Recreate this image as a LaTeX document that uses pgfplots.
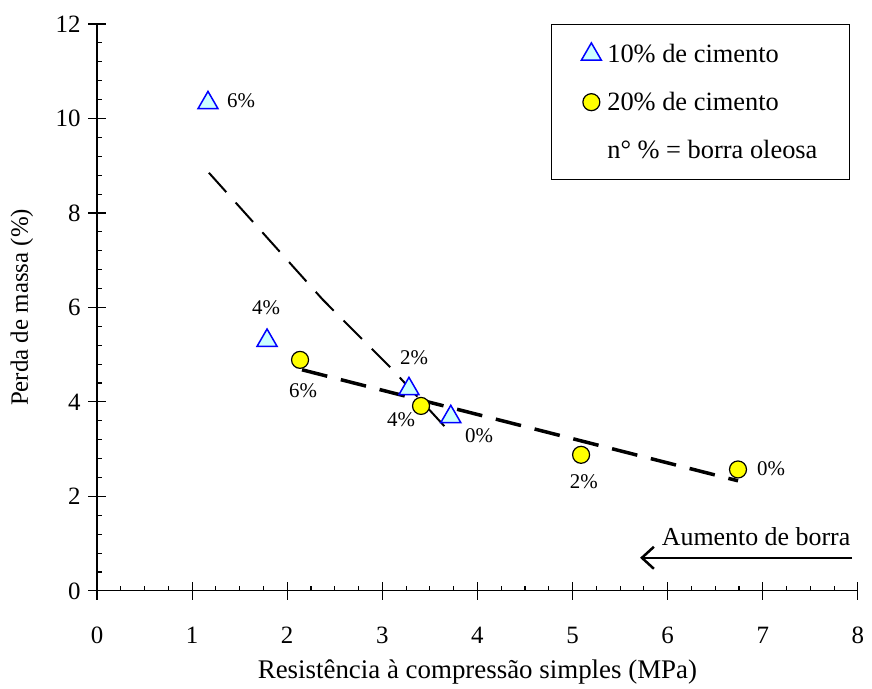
\documentclass[border=0pt]{standalone}
\usepackage{fontspec}
\setmainfont{Liberation Serif}
\usepackage{pgfplots}
\pgfplotsset{compat=1.18}
\usetikzlibrary{arrows.meta}
\definecolor{triedge}{RGB}{0,0,255}
\definecolor{trifill}{RGB}{204,255,255}
\definecolor{circfill}{RGB}{255,255,0}
\begin{document}
\begin{tikzpicture}
\begin{axis}[
  scale only axis, width=761bp, height=567bp,
  xmin=0, xmax=8, ymin=0, ymax=12,
  clip=false,
  axis x line*=bottom, axis y line*=left,
  axis line style={line width=1.1bp},
  xtick={0,...,8}, ytick={0,2,...,12},
  minor x tick num=3, minor y tick num=4,
  tick align=inside, major tick length=9bp, minor tick length=5bp,
  tick style={line width=1.1bp, black},
  extra x ticks={0,...,8}, extra x tick labels={},
  extra y ticks={0,2,...,12}, extra y tick labels={},
  extra x tick style={tick align=outside, major tick length=9bp},
  extra y tick style={tick align=outside, major tick length=9bp},
  /pgf/number format/assume math mode=true,
  tick label style={font=\fontsize{25}{25}\selectfont},
  xticklabel style={yshift=-33bp},
  yticklabel style={xshift=-13bp},
  xlabel={Resistência à compressão simples (MPa)},
  ylabel={Perda de massa (\%)},
  xlabel style={font=\fontsize{27}{27}\selectfont, at={(axis description cs:0.5,-0.143)}, anchor=center},
  ylabel style={font=\fontsize{25}{25}\selectfont, at={(axis description cs:-0.0986,0.5)}, anchor=center},
  legend cell align=left,
  legend style={at={(rel axis cs:0.5966,1)}, anchor=north west, draw=black, line width=1bp,
    font=\fontsize{26.5}{26.5}\selectfont, inner xsep=30bp, inner ysep=18bp, row sep=24bp, column sep=4bp},
]
\addplot[only marks, mark=triangle*, mark size=11.5bp,
  mark options={draw=triedge, fill=trifill, line width=1.5bp}]
  coordinates {(1.167,10.33) (1.788,5.30) (3.28,4.277) (3.72,3.685)};
\addlegendentry{10\% de cimento}
\addplot[only marks, mark=*, mark size=8.5bp,
  mark options={draw=black, fill=circfill, line width=1.2bp}]
  coordinates {(2.135,4.89) (3.407,3.915) (5.09,2.88) (6.74,2.57)};
\addlegendentry{20\% de cimento}
\addlegendimage{empty legend}
\addlegendentry{n° \% = borra oleosa}
\addplot[forget plot, black, line width=2bp, dash pattern=on 26bp off 14bp]
  coordinates {(1.177,8.85) (2.376,6.16) (3.10,4.70) (3.66,3.47)};
\addplot[forget plot, black, line width=3.5bp, dash pattern=on 26bp off 14bp]
  coordinates {(2.156,4.68) (6.74,2.33)};
\begin{scope}[font=\fontsize{21}{21}\selectfont]
\node at (axis cs:1.514,10.37) {6\%};
\node at (axis cs:1.777,5.99) {4\%};
\node at (axis cs:3.333,4.93) {2\%};
\node at (axis cs:4.017,3.28) {0\%};
\node at (axis cs:2.166,4.23) {6\%};
\node at (axis cs:3.197,3.62) {4\%};
\node at (axis cs:5.12,2.31) {2\%};
\node at (axis cs:7.087,2.58) {0\%};
\end{scope}
\draw[line width=2.5bp, -{Straight Barb[length=12bp,width=22bp,line width=2.5bp]}]
  (axis cs:7.94,0.70) -- (axis cs:5.71,0.70);
\node[anchor=base, font=\fontsize{26}{26}\selectfont] at (axis cs:6.93,0.97) {Aumento de borra};
\path (axis cs:-1.02,-2.074) rectangle (axis cs:8.149,12.508);
\end{axis}
\end{tikzpicture}
\end{document}
